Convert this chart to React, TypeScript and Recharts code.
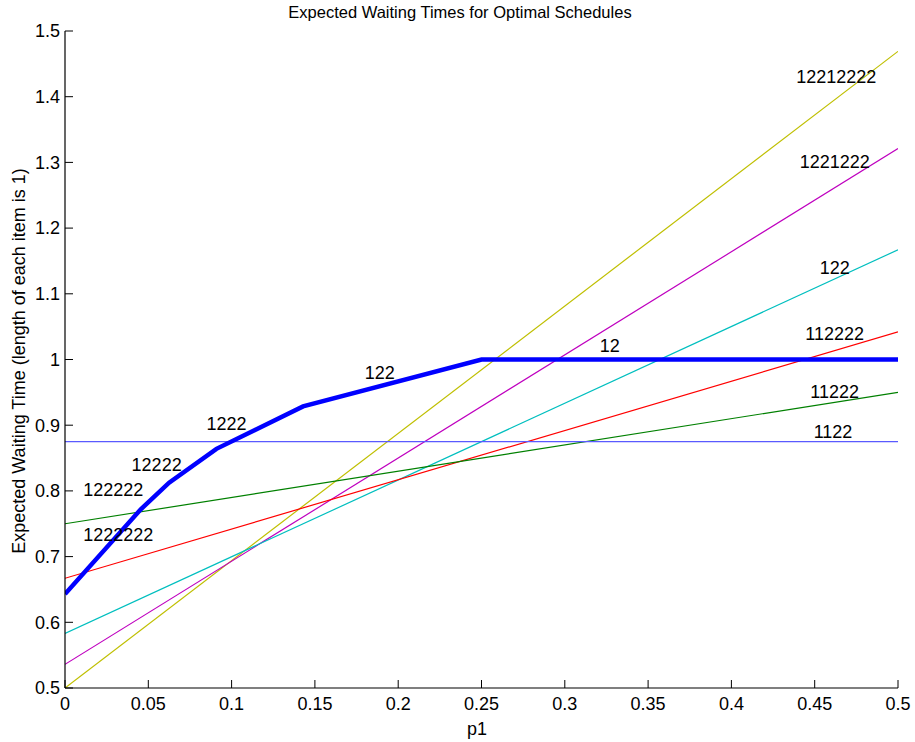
import {
  ComposedChart,
  Line,
  Scatter,
  XAxis,
  YAxis,
} from 'recharts'

// p1 values at both ends of the straight lines
const p1Ends = [0, 0.5]

// expected waiting time at p1 = 0 and p1 = 0.5 for each schedule
const s12212222 = [0.5, 1.469]
const s1221222 = [0.536, 1.321]
const s122 = [0.583, 1.167]
const s112222 = [0.667, 1.042]
const s11222 = [0.75, 0.95]
const s1122 = [0.875, 0.875]

// lower envelope (optimal schedule)
const optX = [0, 0.0455, 0.0625, 0.0909, 0.1429, 0.25, 0.5]
const optY = [0.643, 0.772, 0.8125, 0.864, 0.9286, 1.0, 1.0]

// text labels placed in data coordinates
const labelText = [
  '12212222', '1221222', '122', '112222', '11222', '1122',
  '12', '122', '1222', '12222', '122222', '1222222',
]
const labelX = [0.463, 0.462, 0.462, 0.462, 0.462, 0.461, 0.327, 0.189, 0.097, 0.055, 0.029, 0.032]
const labelY = [1.43, 1.30, 1.139, 1.039, 0.951, 0.89, 1.02, 0.98, 0.902, 0.84, 0.801, 0.733]

const xTicks = [0, 0.05, 0.1, 0.15, 0.2, 0.25, 0.3, 0.35, 0.4, 0.45, 0.5]
const yTicks = [0.5, 0.6, 0.7, 0.8, 0.9, 1, 1.1, 1.2, 1.3, 1.4, 1.5]

const toPoints = (xs: number[], ys: number[]) => xs.map((x, i) => ({ x, y: ys[i] }))

const series = [
  { name: '12212222', data: toPoints(p1Ends, s12212222), color: '#bfbf00' },
  { name: '1221222', data: toPoints(p1Ends, s1221222), color: '#bf00bf' },
  { name: '122', data: toPoints(p1Ends, s122), color: '#00bfbf' },
  { name: '112222', data: toPoints(p1Ends, s112222), color: '#ff0000' },
  { name: '11222', data: toPoints(p1Ends, s11222), color: '#008000' },
  { name: '1122', data: toPoints(p1Ends, s1122), color: '#5a5aff' },
]

const optimal = toPoints(optX, optY)
const labels = labelText.map((t, i) => ({ x: labelX[i], y: labelY[i], t }))

const font = '"Liberation Sans", Arial, Helvetica, sans-serif'
const fmt = (v: number) => String(v)

function LabelShape(props: any) {
  const { cx, cy, payload } = props
  return (
    <text
      x={cx}
      y={cy}
      textAnchor="middle"
      dominantBaseline="central"
      fontSize={18}
      fontFamily={font}
      fill="#000"
    >
      {payload.t}
    </text>
  )
}

const hiddenTick = () => <g />

export default function App() {
  return (
    <div style={{ position: 'absolute', left: 0, top: 0, width: 915, height: 742, background: '#fff' }}>
      <div
        style={{
          position: 'absolute',
          left: 0,
          top: 3,
          width: 920,
          textAlign: 'center',
          fontFamily: font,
          fontSize: 16.5,
          lineHeight: '18px',
          color: '#000',
        }}
      >
        Expected Waiting Times for Optimal Schedules
      </div>
      <ComposedChart
        width={915}
        height={742}
        margin={{ top: 31, right: 17, left: 15, bottom: 24 }}
        style={{ fontFamily: font }}
      >
        <XAxis
          xAxisId="b"
          type="number"
          dataKey="x"
          domain={[0, 0.5]}
          ticks={xTicks}
          tickFormatter={fmt}
          height={30}
          allowDataOverflow
          tickSize={-8}
          tickMargin={17}
          axisLine={{ stroke: '#000', strokeWidth: 1.2 }}
          tickLine={{ stroke: '#000' }}
          tick={{ fontSize: 18, fill: '#000' }}
          label={{
            content: () => (
              <text x={477} y={735} textAnchor="middle" fontSize={18} fontFamily={font} fill="#000">
                p1
              </text>
            ),
          }}
        />
        <XAxis
          xAxisId="t"
          orientation="top"
          type="number"
          dataKey="x"
          domain={[0, 0.5]}
          ticks={xTicks}
          height={0}
          allowDataOverflow
          tickSize={-8}
          axisLine={{ stroke: '#000', strokeWidth: 1.2 }}
          tickLine={{ stroke: '#000' }}
          tick={hiddenTick}
        />
        <YAxis
          yAxisId="l"
          type="number"
          dataKey="y"
          domain={[0.5, 1.5]}
          ticks={yTicks}
          tickFormatter={fmt}
          width={50}
          allowDataOverflow
          tickSize={-8}
          tickMargin={13}
          axisLine={{ stroke: '#000', strokeWidth: 1.2 }}
          tickLine={{ stroke: '#000' }}
          tick={{ fontSize: 18, fill: '#000' }}
          label={{
            content: () => (
              <text
                x={25}
                y={361}
                textAnchor="middle"
                fontSize={18}
                fontFamily={font}
                fill="#000"
                transform="rotate(-90 25 361)"
              >
                Expected Waiting Time (length of each item is 1)
              </text>
            ),
          }}
        />
        <YAxis
          yAxisId="r"
          orientation="right"
          type="number"
          dataKey="y"
          domain={[0.5, 1.5]}
          ticks={yTicks}
          width={0}
          allowDataOverflow
          tickSize={-8}
          axisLine={{ stroke: '#000', strokeWidth: 1.2 }}
          tickLine={{ stroke: '#000' }}
          tick={hiddenTick}
        />
        {series.map((s) => (
          <Line
            key={s.name + s.color}
            xAxisId="b"
            yAxisId="l"
            data={s.data}
            dataKey="y"
            type="linear"
            stroke={s.color}
            strokeWidth={1.2}
            dot={false}
            activeDot={false}
            isAnimationActive={false}
          />
        ))}
        <Line
          xAxisId="b"
          yAxisId="l"
          data={optimal}
          dataKey="y"
          type="linear"
          stroke="#0000ff"
          strokeWidth={4.5}
          dot={false}
          activeDot={false}
          isAnimationActive={false}
        />
        <Scatter
          xAxisId="b"
          yAxisId="l"
          data={labels}
          dataKey="y"
          shape={LabelShape}
          isAnimationActive={false}
        />
      </ComposedChart>
    </div>
  )
}
